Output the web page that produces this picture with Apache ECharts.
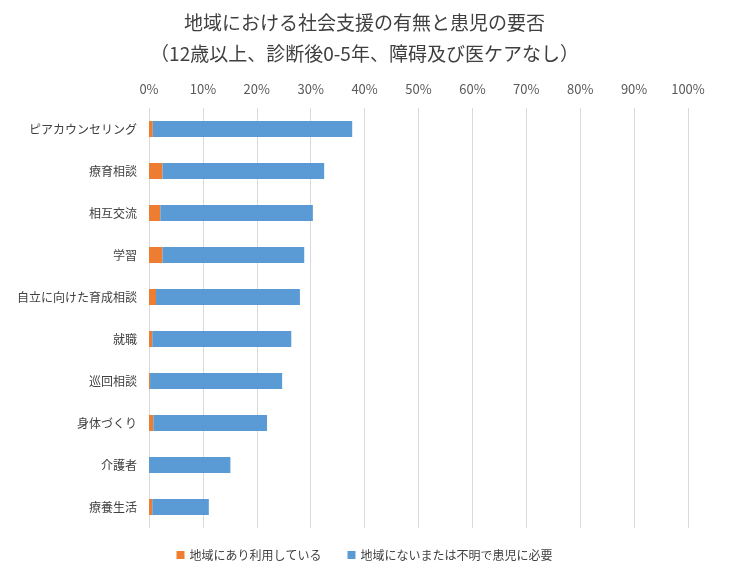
<!DOCTYPE html>
<html>
<head>
<meta charset="utf-8">
<script src="https://cdn.jsdelivr.net/npm/echarts@6/dist/echarts.min.js"></script>
<style>
  html, body { margin: 0; padding: 0; background: #fff; }
  #main { width: 729px; height: 571px; }
</style>
</head>
<body>
<div id="main"></div>
<script>
// カテゴリ（上から順）
var categories = ['ピアカウンセリング', '療育相談', '相互交流', '学習', '自立に向けた育成相談',
                  '就職', '巡回相談', '身体づくり', '介護者', '療養生活'];
// 地域にあり利用している (%)
var usingValues = [0.7, 2.5, 2.1, 2.5, 1.3, 0.6, 0.2, 0.8, 0, 0.6];
// 地域にないまたは不明で患児に必要 (%)
var needValues = [37.0, 30.0, 28.3, 26.3, 26.7, 25.8, 24.5, 21.1, 15.1, 10.5];
var seriesNames = ['地域にあり利用している', '地域にないまたは不明で患児に必要'];

var font = '"Noto Sans CJK JP", sans-serif';
var myChart = echarts.init(document.getElementById('main'));

var option = {
    animation: false,
    backgroundColor: '#fff',
    title: {
        text: '地域における社会支援の有無と患児の要否\n（12歳以上、診断後0-5年、障碍及び医ケアなし）',
        left: 'center',
        top: 2,
        textStyle: {
            fontFamily: font,
            fontSize: 19,
            fontWeight: 'normal',
            color: '#404040',
            lineHeight: 31
        }
    },
    legend: {
        bottom: 5,
        left: 'center',
        itemWidth: 8,
        itemHeight: 8,
        itemGap: 26,
        icon: 'rect',
        data: seriesNames,
        textStyle: { fontFamily: font, fontSize: 12, color: '#404040' }
    },
    grid: {
        left: 149,
        right: 41,
        top: 108,
        bottom: 43
    },
    xAxis: {
        type: 'value',
        position: 'top',
        min: 0,
        max: 100,
        interval: 10,
        axisLine: { show: false },
        axisTick: { show: false },
        axisLabel: {
            formatter: '{value}%',
            fontFamily: font,
            fontSize: 13,
            color: '#595959',
            margin: 12
        },
        splitLine: { lineStyle: { color: '#d9d9d9', width: 1 } }
    },
    yAxis: {
        type: 'category',
        inverse: true,
        data: categories,
        axisLine: { show: false },
        axisTick: { show: false },
        axisLabel: {
            fontFamily: font,
            fontSize: 12,
            color: '#404040',
            margin: 12
        }
    },
    series: [
        {
            name: seriesNames[0],
            type: 'bar',
            stack: 'total',
            barWidth: 16,
            itemStyle: { color: '#ED7D31' },
            data: usingValues
        },
        {
            name: seriesNames[1],
            type: 'bar',
            stack: 'total',
            barWidth: 16,
            itemStyle: { color: '#5B9BD5' },
            data: needValues
        }
    ]
};
myChart.setOption(option);
</script>
</body>
</html>
